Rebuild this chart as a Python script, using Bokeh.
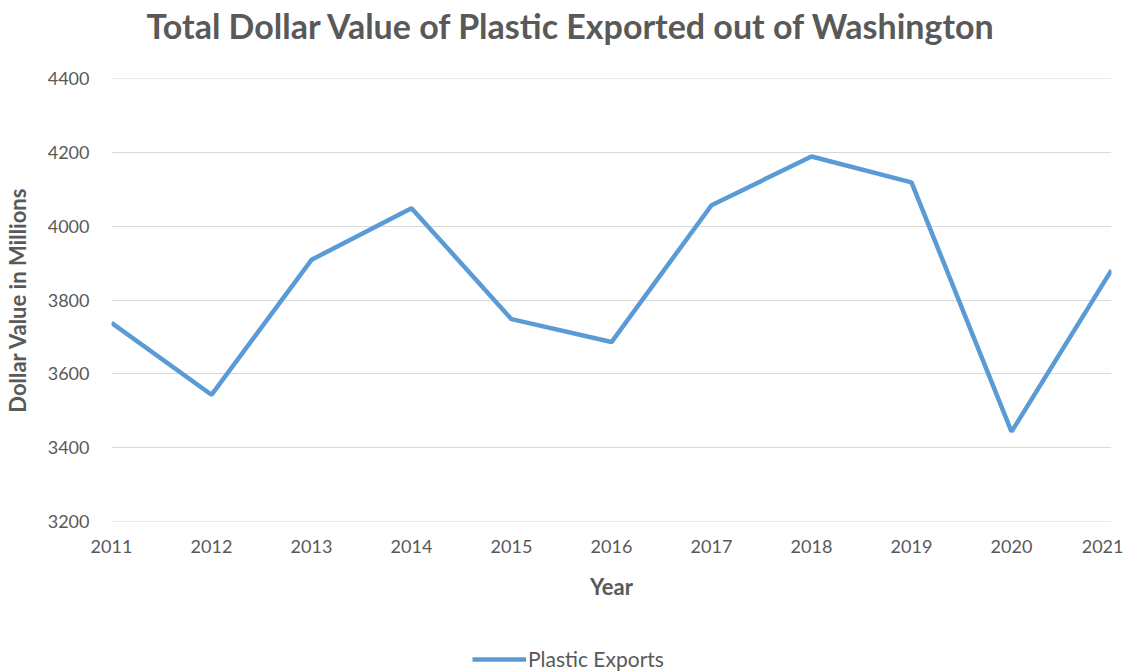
from bokeh.plotting import figure
from bokeh.models import Range1d, Legend, LegendItem, FixedTicker, Label
from bokeh.layouts import column
from bokeh.embed import file_html
from bokeh.resources import INLINE

years = [2011, 2012, 2013, 2014, 2015, 2016, 2017, 2018, 2019, 2020, 2021]
values = [3738, 3543, 3909, 4049, 3748, 3686, 4057, 4189, 4119, 3443, 3881]
y_ticks = [3200, 3400, 3600, 3800, 4000, 4200, 4400]
series_name = "Plastic Exports"
title_text = "Total Dollar Value of Plastic Exported out of Washington"

FONT = "Lato"
GREY = "#595959"
LINE = "#5B9BD5"

# title strip
p0 = figure(width=1123, height=50, output_backend="svg", toolbar_location=None,
            x_range=Range1d(0, 1), y_range=Range1d(0, 1),
            min_border=0, min_border_left=0, min_border_right=0, min_border_top=0, min_border_bottom=0,
            x_axis_location=None, y_axis_location=None)
p0.outline_line_color = None
p0.xgrid.grid_line_color = None
p0.ygrid.grid_line_color = None
p0.add_layout(Label(x=35, y=25, x_units="screen", y_units="screen", text=title_text,
                    text_font=FONT, text_font_size="34px", text_font_style="bold",
                    text_color=GREY, text_baseline="middle", text_align="left"))

p = figure(width=1123, height=593, x_range=Range1d(2011, 2021), y_range=Range1d(3199.5, 4400.5),
           output_backend="svg", toolbar_location=None,
           min_border_left=110, min_border_right=12, min_border_top=28, min_border_bottom=122)

p.outline_line_color = None
p.background_fill_color = "white"

p.line(years, values, line_color=LINE, line_width=4.5)

p.xaxis.ticker = FixedTicker(ticks=years)
p.yaxis.ticker = FixedTicker(ticks=y_ticks)

for ax in (p.xaxis[0], p.yaxis[0]):
    ax.axis_line_color = None
    ax.major_tick_line_color = None
    ax.minor_tick_line_color = None
    ax.major_tick_in = 0
    ax.major_tick_out = 0
    ax.major_label_text_font = FONT
    ax.major_label_text_font_size = "18px"
    ax.major_label_text_color = GREY
    ax.axis_label_text_font = FONT
    ax.axis_label_text_font_size = "22px"
    ax.axis_label_text_font_style = "bold"
    ax.axis_label_text_color = GREY

p.xaxis.axis_label = "Year"
p.yaxis.axis_label = "Dollar Value in Millions"
p.xaxis.major_label_standoff = 18
p.yaxis.major_label_standoff = 22
p.xaxis.axis_label_standoff = 17
p.yaxis.axis_label_standoff = 14

p.xgrid.grid_line_color = None
p.ygrid.grid_line_color = "#D9D9D9"
p.ygrid.grid_line_width = 1

# legend strip below the chart (series line kept out of view; only its legend entry shows)
p2 = figure(width=1123, height=28, output_backend="svg", toolbar_location=None,
            x_range=Range1d(2011, 2021), y_range=Range1d(0, 1),
            min_border=0, min_border_left=0, min_border_right=0, min_border_top=0, min_border_bottom=0,
            x_axis_location=None, y_axis_location=None)
p2.outline_line_color = None
p2.xgrid.grid_line_color = None
p2.ygrid.grid_line_color = None
r2 = p2.line(years, values, line_color=LINE, line_width=4.5)
legend = Legend(items=[LegendItem(label=series_name, renderers=[r2])],
                orientation="horizontal", location=(361, 0),
                label_text_font=FONT, label_text_font_size="21px", label_text_color=GREY,
                glyph_width=54, label_standoff=2, border_line_color=None,
                background_fill_alpha=0, margin=0, padding=2)
p2.add_layout(legend, "center")

layout = column(p0, p, p2, spacing=0)
open("out.html", "w").write(file_html(layout, INLINE))
